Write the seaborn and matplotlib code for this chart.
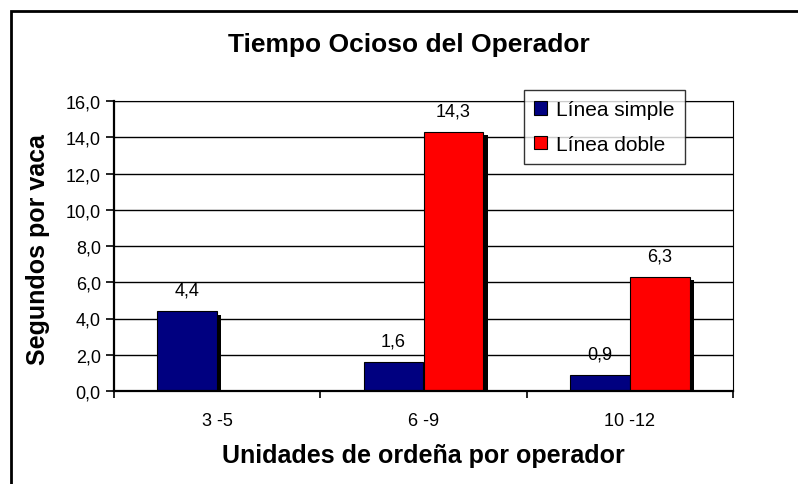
import matplotlib
matplotlib.use("Agg")
import matplotlib.pyplot as plt
import matplotlib.patheffects as pe
from matplotlib.patches import Rectangle
from matplotlib.ticker import FuncFormatter, FixedLocator
import pandas as pd
import seaborn as sns

categories = ["3 -5", "6 -9", "10 -12"]
series = ["Línea simple", "Línea doble"]
simple_values = [4.4, 1.6, 0.9]
doble_values = [None, 14.3, 6.3]
colors = ["#000080", "#FF0000"]

rows = []
for cat, s, d in zip(categories, simple_values, doble_values):
    rows.append({"cat": cat, "serie": series[0], "val": s})
    rows.append({"cat": cat, "serie": series[1], "val": d})
df = pd.DataFrame(rows)

sns.set_style("white")
plt.rcParams["font.family"] = ["Liberation Sans", "DejaVu Sans"]
plt.rcParams["text.color"] = "black"
plt.rcParams["axes.labelcolor"] = "black"
plt.rcParams["xtick.color"] = "black"
plt.rcParams["ytick.color"] = "black"

fig = plt.figure(figsize=(7.98, 4.85), dpi=100)
ax = fig.add_axes([114 / 798, 1 - 392 / 485, (733 - 114) / 798, (392 - 102) / 485])

sns.barplot(
    data=df, x="cat", y="val", hue="serie", order=categories, hue_order=series,
    palette=colors, width=0.58, edgecolor="black", linewidth=0.8, ax=ax,
    saturation=1, err_kws={"linewidth": 0},
)

# sombra negra desplazada, estilo Excel
for patch in ax.patches:
    patch.set_path_effects([
        pe.SimplePatchShadow(offset=(3, -2.5), shadow_rgbFace="black", alpha=1.0),
        pe.Normal(),
    ])

for cont in ax.containers:
    labels = [("" if (v is None or v != v) else f"{v:.1f}".replace(".", ",")) for v in cont.datavalues]
    ax.bar_label(cont, labels=labels, padding=9, fontsize=13)

ax.set_ylim(0, 16)
ax.set_xlim(-0.5, 2.5)
ax.set_yticks(range(0, 17, 2))
ax.yaxis.set_major_formatter(FuncFormatter(lambda v, p: f"{v:.1f}".replace(".", ",")))
ax.yaxis.grid(True, color="black", linewidth=1.0)
ax.set_axisbelow(True)

ax.xaxis.set_minor_locator(FixedLocator([-0.5, 0.5, 1.5, 2.5]))
ax.tick_params(axis="x", which="major", length=0, pad=15, labelsize=13)
ax.tick_params(axis="x", which="minor", length=5, width=1.2, color="black", direction="out", bottom=True)
ax.tick_params(axis="y", length=5.5, width=1.2, color="black", direction="out", left=True, pad=4, labelsize=13)

for side in ["left", "bottom"]:
    ax.spines[side].set_color("black")
    ax.spines[side].set_linewidth(1.6)
for side in ["top", "right"]:
    ax.spines[side].set_color("black")
    ax.spines[side].set_linewidth(0.8)

ax.set_xlabel("Unidades de ordeña por operador", fontsize=18, fontweight="bold")
ax.xaxis.set_label_coords(0.5, (392 - 456) / 290)
ax.xaxis.label.set_verticalalignment("center")
ax.set_ylabel("Segundos por vaca", fontsize=18, fontweight="bold")
ax.yaxis.set_label_coords((38 - 114) / 619, 0.49)
ax.yaxis.label.set_verticalalignment("center")
fig.text(409 / 798, 1 - 45 / 485, "Tiempo Ocioso del Operador", fontsize=19, fontweight="bold",
         ha="center", va="center")

leg = ax.legend(
    loc="upper left", bbox_to_anchor=((524 - 114) / 619, 1 + 11 / 290), frameon=True,
    fontsize=15, handlelength=0.62, handleheight=0.62, handletextpad=0.4, borderpad=0.5,
    labelspacing=0.75, borderaxespad=0, fancybox=False, title=None,
)
leg.get_frame().set_edgecolor("black")
leg.get_frame().set_linewidth(1.0)
for h in leg.legend_handles:
    h.set_path_effects([])
    h.set_edgecolor("black")
    h.set_linewidth(0.8)

fig.patches.append(Rectangle((11 / 798, -0.1), 2, 1 - 12 / 485 + 0.1, transform=fig.transFigure,
                             fill=False, edgecolor="black", linewidth=2.0))

fig.savefig("out.png", dpi=100)
